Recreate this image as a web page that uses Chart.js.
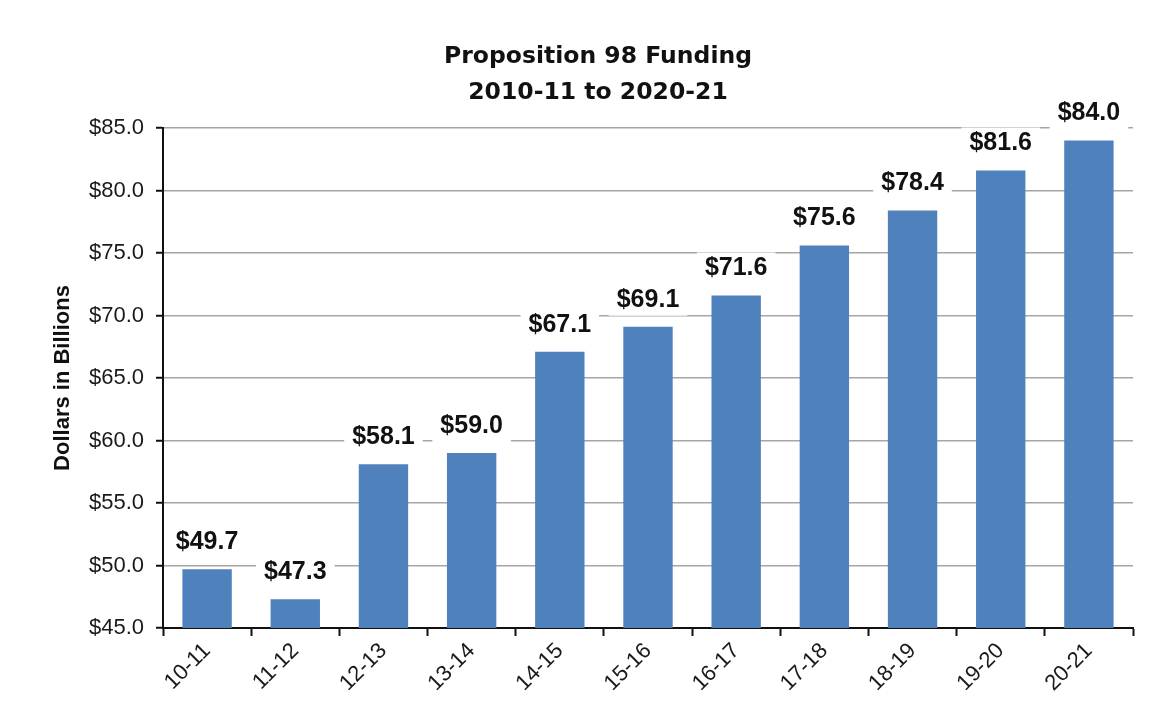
<!DOCTYPE html>
<html>
<head>
<meta charset="utf-8">
<title>Proposition 98 Funding</title>
<script src="https://cdn.jsdelivr.net/npm/chart.js@4.4.1/dist/chart.umd.min.js"></script>
<style>
  html, body { margin: 0; padding: 0; background: #ffffff; }
  #wrap { width: 1174px; height: 714px; }
</style>
</head>
<body>
<div id="wrap"><canvas id="fundChart" width="1174" height="714"></canvas></div>
<script>
/* ================= DATA ================= */
const years = ["10-11","11-12","12-13","13-14","14-15","15-16","16-17","17-18","18-19","19-20","20-21"];
const funding = [49.7, 47.3, 58.1, 59.0, 67.1, 69.1, 71.6, 75.6, 78.4, 81.6, 84.0];
const titleLines = ["Proposition 98 Funding", "2010-11 to 2020-21"];
const yTitle = "Dollars in Billions";
const yMin = 45, yMax = 85, yStep = 5;

/* ================= TITLE (centred like the original) ================= */
const titlePlugin = {
  id: "titleText",
  afterDraw(chart) {
    const ctx = chart.ctx;
    ctx.save();
    ctx.fillStyle = "#111111";
    ctx.font = "bold 23.5px 'DejaVu Sans'";
    ctx.textAlign = "center";
    ctx.textBaseline = "middle";
    titleLines.forEach((t, i) => ctx.fillText(t, 598, 57 + i * 36));
    ctx.restore();
  }
};

/* ================= VALUE LABELS ================= */
const valueLabels = {
  id: "valueLabels",
  afterDatasetsDraw(chart) {
    const ctx = chart.ctx;
    const meta = chart.getDatasetMeta(0);
    ctx.save();
    ctx.font = "bold 25px 'Liberation Sans'";
    ctx.textAlign = "center";
    ctx.textBaseline = "middle";
    meta.data.forEach((bar, i) => {
      const txt = "$" + funding[i].toFixed(1);
      const w = ctx.measureText(txt).width + 16;
      const y = bar.y - 27;
      ctx.fillStyle = "#ffffff";
      ctx.fillRect(bar.x - w / 2, y - 16, w, 32);
      ctx.fillStyle = "#111111";
      ctx.fillText(txt, bar.x, y);
    });
    ctx.restore();
  }
};

/* ================= CHART ================= */
const ctx = document.getElementById("fundChart").getContext("2d");

new Chart(ctx, {
  type: "bar",
  data: {
    labels: years,
    datasets: [{
      data: funding,
      backgroundColor: "#4f81bd",
      borderWidth: 0,
      barPercentage: 0.56,
      categoryPercentage: 1.0
    }]
  },
  options: {
    responsive: false,
    animation: false,
    layout: { padding: { top: 128, left: 0, right: 41, bottom: 0 } },
    plugins: {
      legend: { display: false },
      title: { display: false },
      tooltip: { enabled: false }
    },
    scales: {
      x: {
        afterFit(scale) { scale.height = 86; },
        border: { display: true, color: "#111111", width: 2 },
        grid: {
          display: true,
          drawOnChartArea: false,
          drawTicks: true,
          tickLength: 8,
          tickColor: "#111111",
          tickWidth: 2,
          offset: true
        },
        ticks: {
          color: "#1a1a1a",
          font: { family: "'Liberation Sans'", size: 22 },
          minRotation: 45,
          maxRotation: 45,
          padding: 2
        }
      },
      y: {
        min: yMin,
        max: yMax,
        afterFit(scale) { scale.width = 163; },
        border: { display: true, color: "#111111", width: 2 },
        grid: {
          color: "#a6a6a6",
          lineWidth: 1.5,
          drawTicks: true,
          tickLength: 7,
          tickColor: "#111111",
          tickWidth: 2
        },
        ticks: {
          stepSize: yStep,
          color: "#1a1a1a",
          padding: 12,
          font: { family: "'Liberation Sans'", size: 22 },
          callback: v => "$" + Number(v).toFixed(1)
        },
        title: {
          display: true,
          text: yTitle,
          color: "#111111",
          padding: { top: 50, bottom: 4 },
          font: { family: "'Liberation Sans'", size: 22, weight: "bold" }
        }
      }
    }
  },
  plugins: [titlePlugin, valueLabels]
});
</script>
</body>
</html>
